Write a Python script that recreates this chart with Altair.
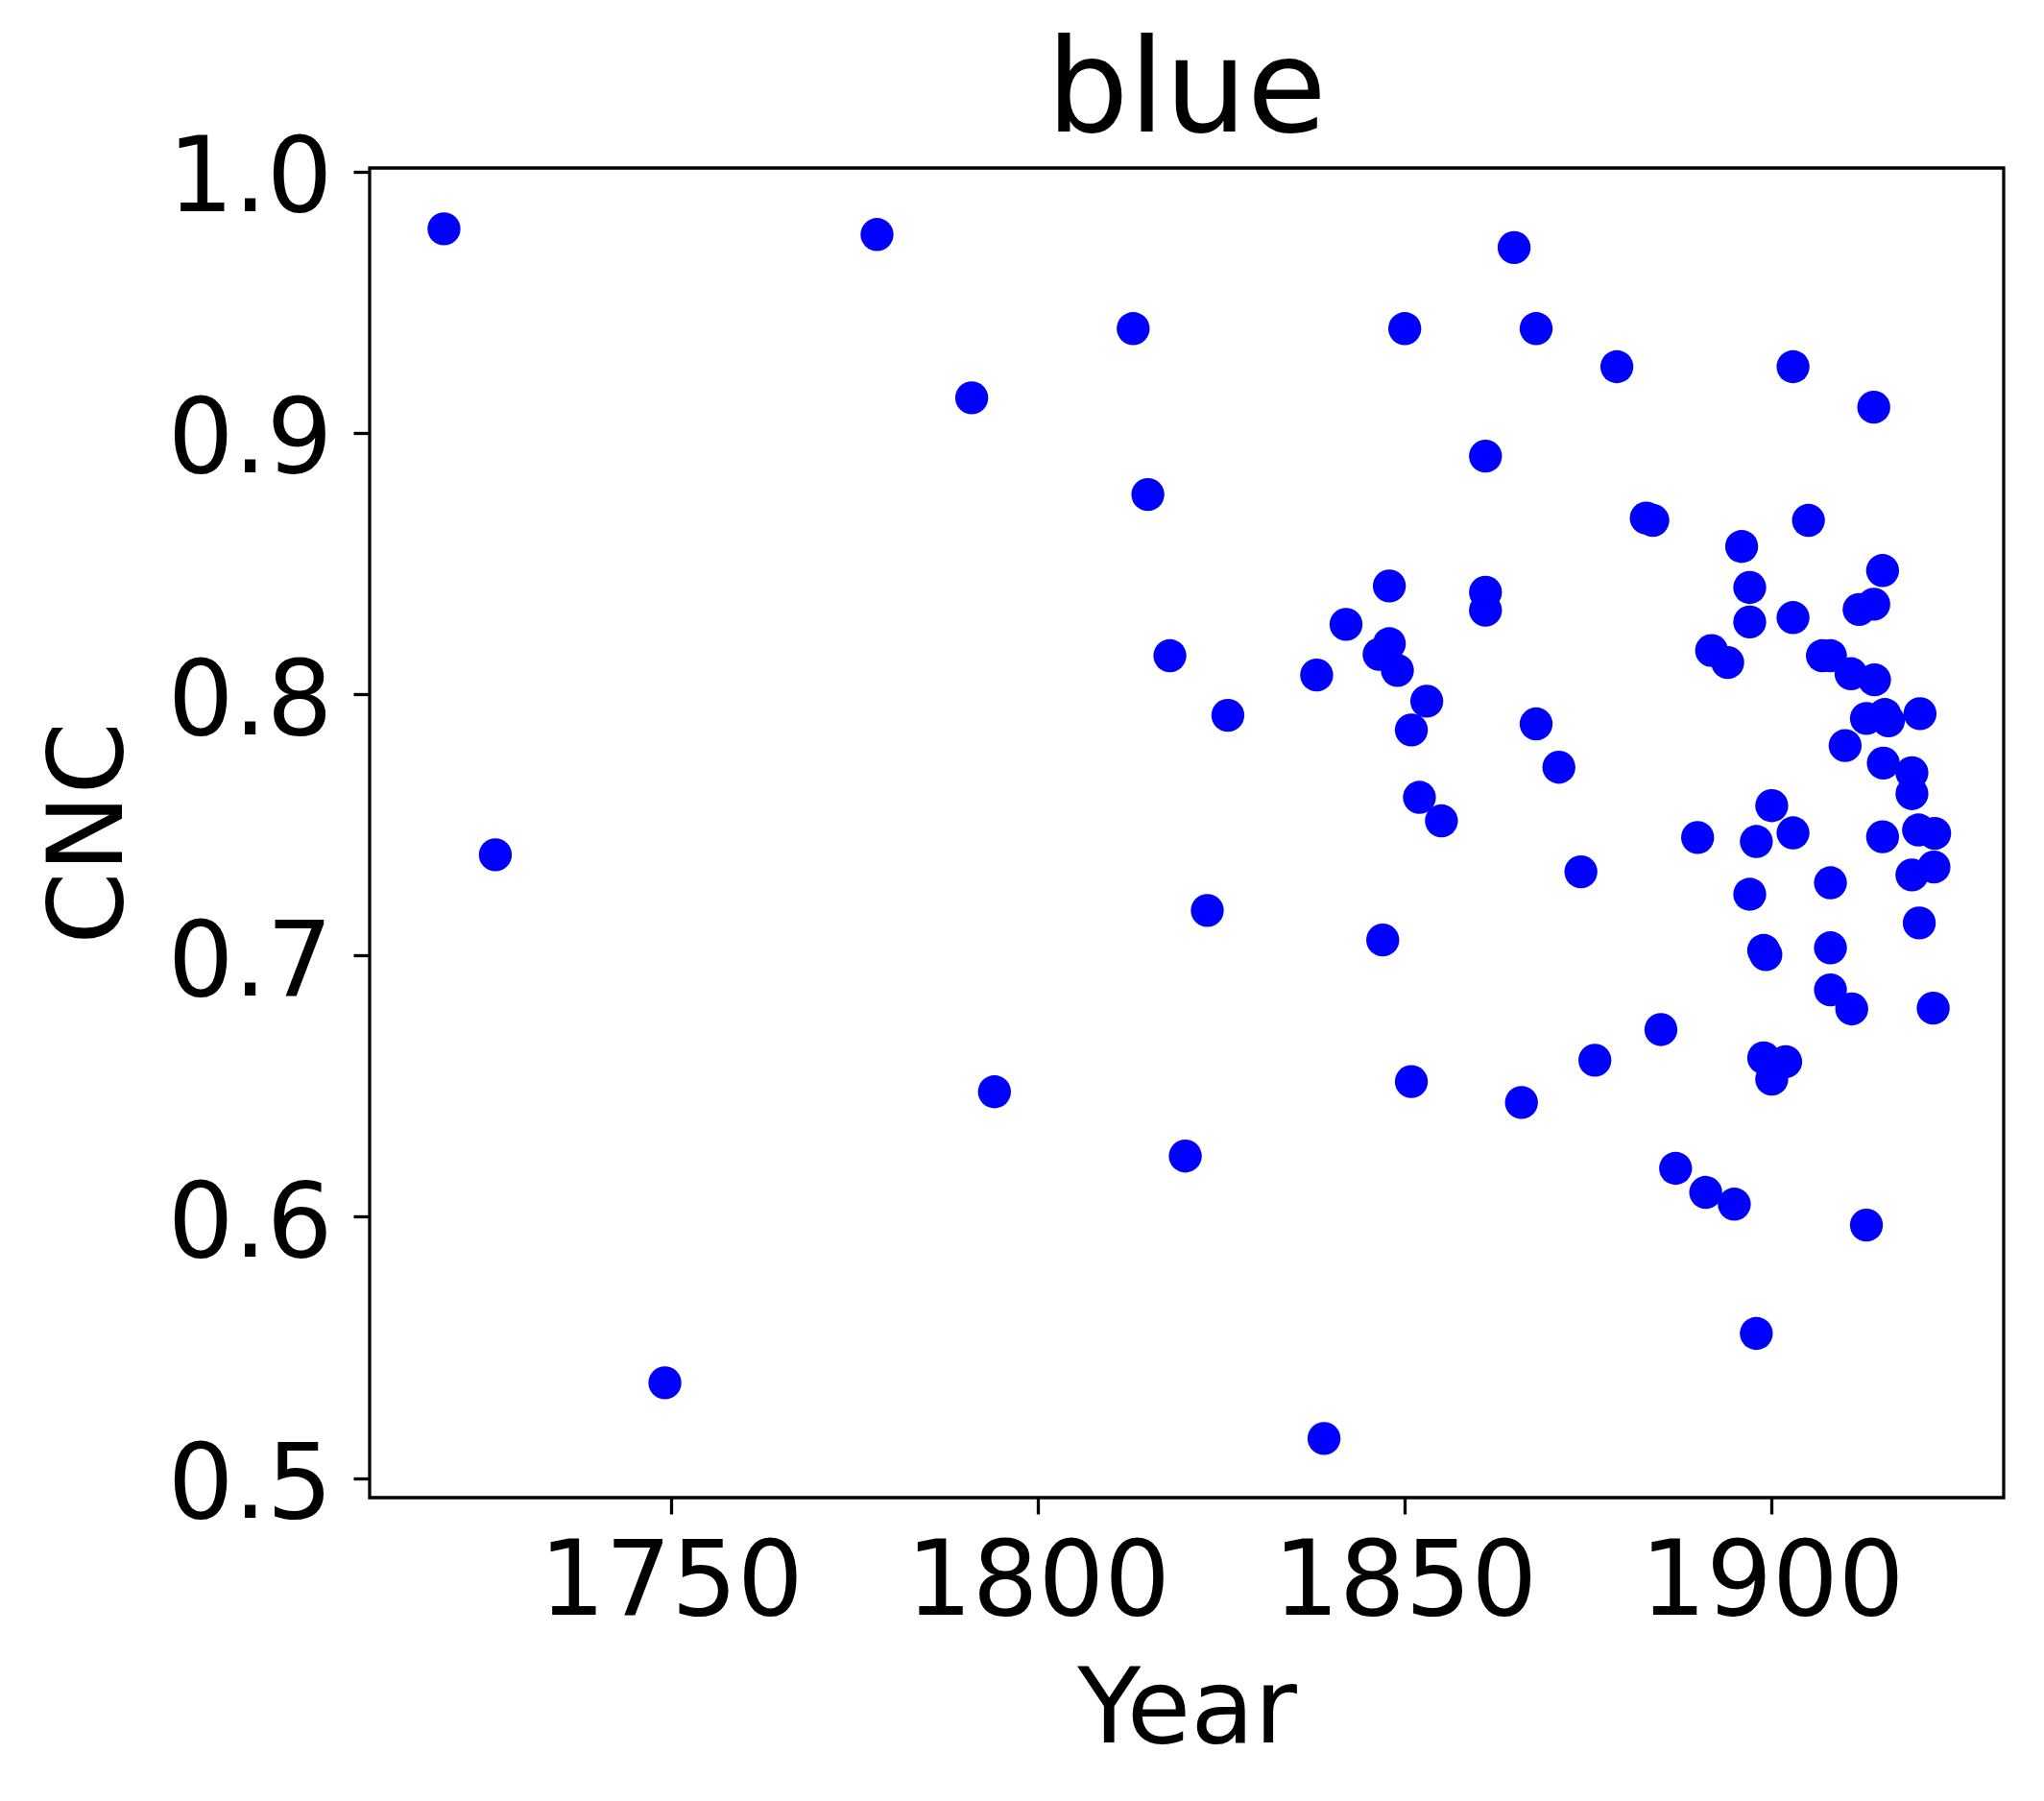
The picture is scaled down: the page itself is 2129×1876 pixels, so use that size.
import altair as alt
import pandas as pd

years = [
    1719.1, 1726.1, 1749.2, 1778.1, 1791.0, 1794.1, 1813.0, 1815.0, 1818.0, 1820.1,
    1823.1, 1825.9, 1838.0, 1839.0, 1842.0, 1847.0, 1847.9, 1846.5, 1847.9, 1849.0,
    1850.0, 1850.9, 1850.9, 1852.0, 1853.0, 1855.0, 1861.0, 1861.0, 1861.0, 1864.9,
    1865.9, 1867.9, 1867.9, 1871.0, 1874.0, 1875.9, 1878.9, 1882.9, 1883.8, 1884.9,
    1886.9, 1889.9, 1891.0, 1891.8, 1894.0, 1894.9, 1895.9, 1897.0, 1897.0, 1897.0,
    1897.9, 1897.9, 1898.9, 1899.2, 1898.9, 1900.0, 1900.0, 1901.9, 1902.9, 1902.9,
    1902.9, 1905.0, 1906.9, 1908.0, 1908.0, 1908.0, 1908.0, 1910.0, 1910.8, 1910.9,
    1911.9, 1912.9, 1912.9, 1913.9, 1914.0, 1913.9, 1915.4, 1915.9, 1915.2, 1915.1,
    1915.1, 1919.1, 1919.1, 1919.1, 1920.0, 1920.1, 1920.2, 1922.2, 1922.1, 1922.0,
]
cnc = [
    0.9781, 0.7385, 0.5364, 0.9759, 0.9134, 0.6478, 0.9399, 0.8764, 0.8147, 0.6232,
    0.7172, 0.7919, 0.8073, 0.5151, 0.8267, 0.7059, 0.8414, 0.8152, 0.8193, 0.8091,
    0.9399, 0.7863, 0.6517, 0.7605, 0.7973, 0.7515, 0.8911, 0.8390, 0.8321, 0.9709,
    0.6437, 0.9399, 0.7886, 0.7720, 0.7320, 0.6599, 0.9253, 0.8674, 0.8665, 0.6716,
    0.6185, 0.7451, 0.6093, 0.8167, 0.8121, 0.6048, 0.8565, 0.8408, 0.8276, 0.7234,
    0.5553, 0.7436, 0.7019, 0.7003, 0.6608, 0.6526, 0.7573, 0.6593, 0.9253, 0.8293,
    0.7469, 0.8665, 0.8147, 0.8147, 0.7278, 0.7029, 0.6868, 0.7803, 0.8078, 0.6795,
    0.8324, 0.7907, 0.5968, 0.9098, 0.8055, 0.8344, 0.7922, 0.7898, 0.7736, 0.8473,
    0.7454, 0.7699, 0.7619, 0.7308, 0.7480, 0.7124, 0.7925, 0.7467, 0.7338, 0.6798,
]

x_ticks = [1750, 1800, 1850, 1900]
y_ticks = [0.5, 0.6, 0.7, 0.8, 0.9, 1.0]

df = pd.DataFrame({"Year": years, "CNC": cnc})

FONT = "DejaVu Sans"

chart = (
    alt.Chart(df)
    .mark_circle(size=1180, color="#0000ff", opacity=1)
    .encode(
        x=alt.X(
            "Year:Q",
            scale=alt.Scale(domain=[1708.97, 1931.6], nice=False, zero=False),
            axis=alt.Axis(
                values=x_ticks,
                format="d",
                title="Year",
                labelPadding=19,
                labelFlush=False,
                labelOverlap=False,
                labelLimit=1000,
                titleY=254,
                titleBaseline="alphabetic",
            ),
        ),
        y=alt.Y(
            "CNC:Q",
            scale=alt.Scale(domain=[0.49247, 1.00136], nice=False, zero=False),
            axis=alt.Axis(
                values=y_ticks,
                format=".1f",
                title="CNC",
                labelPadding=22,
                labelBaseline="middle",
                labelOffset=9,
                labelFlush=False,
                labelOverlap=False,
                labelLimit=1000,
                titleX=-259,
                titleBaseline="alphabetic",
            ),
        ),
    )
    .properties(
        width=1702,
        height=1385,
        background="white",
        autosize=alt.AutoSizeParams(type="none"),
        padding={"left": 377, "top": 167, "right": 20, "bottom": 290},
        title=alt.TitleParams(
            text="blue",
            font=FONT,
            fontSize=135,
            fontWeight="normal",
            color="black",
            anchor="middle",
            baseline="alphabetic",
            offset=0,
            dy=138,
        ),
    )
    .configure_view(stroke="black", strokeWidth=3.3, fill="white")
    .configure_axis(
        domain=False,
        grid=False,
        ticks=True,
        tickColor="black",
        tickWidth=3.3,
        tickSize=17,
        labelFont=FONT,
        labelFontSize=108,
        labelColor="black",
        titleFont=FONT,
        titleFontSize=108,
        titleColor="black",
        titleFontWeight="normal",
    )
)

chart.save("out.html", embed_options={"renderer": "svg", "actions": False})
